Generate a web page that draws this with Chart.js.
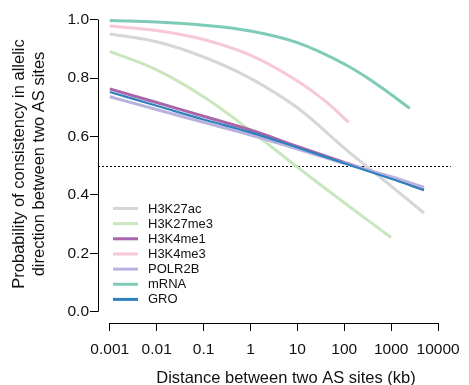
<!DOCTYPE html>
<html>
<head>
<meta charset="utf-8">
<script src="https://cdn.jsdelivr.net/npm/chart.js@4/dist/chart.umd.min.js"></script>
<style>
html,body{margin:0;padding:0;background:#fff;}
canvas{display:block;}
</style>
</head>
<body>
<canvas id="c" width="469" height="385"></canvas>
<script>
// ---- data ----
const seriesNames = ["H3K27ac","H3K27me3","H3K4me1","H3K4me3","POLR2B","mRNA","GRO"];
const xTicks = [0.001,0.01,0.1,1,10,100,1000,10000];
const xTickLabels = ["0.001","0.01","0.1","1","10","100","1000","10000"];
const yTicks = [0,0.2,0.4,0.6,0.8,1.0];
const yTickLabels = ["0.0","0.2","0.4","0.6","0.8","1.0"];

const h3k27acX = [0.001,0.01,0.1,1,10,100,1000,5000];
const h3k27acY = [0.951,0.924,0.872,0.799,0.698,0.560,0.430,0.338];
const h3k27me3X = [0.001,0.01,0.1,1,10,100,1000];
const h3k27me3Y = [0.891,0.828,0.736,0.620,0.495,0.373,0.254];
const h3k4me1X = [0.001,0.01,0.1,1,10,100,1000,5000];
const h3k4me1Y = [0.763,0.716,0.669,0.622,0.566,0.511,0.458,0.418];
const h3k4me3X = [0.001,0.01,0.1,1,10,40,125];
const h3k4me3Y = [0.978,0.963,0.932,0.878,0.790,0.720,0.648];
const polr2bX = [0.001,0.01,0.1,1,10,100,1000,5000];
const polr2bY = [0.736,0.692,0.648,0.605,0.557,0.508,0.462,0.426];
const mrnaX = [0.001,0.01,0.1,1,10,100,500,2500];
const mrnaY = [0.997,0.992,0.981,0.961,0.921,0.848,0.778,0.696];
const groX = [0.001,0.01,0.1,1,10,100,1000,5000];
const groY = [0.752,0.705,0.658,0.614,0.562,0.508,0.455,0.416];
const refLine = 0.5;

const colors = ["#d6d6d6","#c9e6bd","#a865a8","#f7c7da","#b9b2dc","#7ecbb8","#2f80bf"];

function pts(xs, ys){ return xs.map((x,i)=>({x:x,y:ys[i]})); }
const allX = [h3k27acX,h3k27me3X,h3k4me1X,h3k4me3X,polr2bX,mrnaX,groX];
const allY = [h3k27acY,h3k27me3Y,h3k4me1Y,h3k4me3Y,polr2bY,mrnaY,groY];
const widths = [3,3,3,3,3,3,2.2];
const orders = [7,6,3,5,2,4,1];

const datasets = seriesNames.map((n,i)=>({
  label:n,
  data:pts(allX[i],allY[i]),
  borderColor:colors[i],
  backgroundColor:colors[i],
  borderWidth:widths[i],
  pointRadius:0,
  fill:false,
  tension:0.4,
  borderCapStyle:'butt',
  order:orders[i]
}));

const FONT = "'Liberation Sans', Arial, Helvetica, sans-serif";

const decor = {
  id:'decor',
  beforeDatasetsDraw(chart){
    const ctx = chart.ctx, ys = chart.scales.y;
    ctx.save();
    ctx.strokeStyle = '#000';
    ctx.lineWidth = 1;
    ctx.setLineDash([2,2]);
    const yp = Math.round(ys.getPixelForValue(refLine))+0.5;
    ctx.beginPath();
    ctx.moveTo(chart.chartArea.left, yp);
    ctx.lineTo(chart.chartArea.right-2, yp);
    ctx.stroke();
    ctx.restore();
  },
  afterDraw(chart){
    const ctx = chart.ctx, xs = chart.scales.x, ys = chart.scales.y, ca = chart.chartArea;
    ctx.save();
    ctx.strokeStyle = '#000';
    ctx.lineWidth = 1;
    const xl = Math.round(ca.left)+0.5;
    ctx.beginPath();
    ctx.moveTo(xl, ys.getPixelForValue(yTicks[0]));
    ctx.lineTo(xl, ys.getPixelForValue(yTicks[yTicks.length-1]));
    ctx.stroke();
    const yb = Math.round(ca.bottom)+0.5;
    ctx.beginPath();
    ctx.moveTo(xs.getPixelForValue(xTicks[0]), yb);
    ctx.lineTo(xs.getPixelForValue(xTicks[xTicks.length-1]), yb);
    ctx.stroke();

    // legend
    ctx.font = "13px " + FONT;
    ctx.textBaseline = 'middle';
    ctx.textAlign = 'left';
    ctx.fillStyle = '#111';
    seriesNames.forEach((n,i)=>{
      const y = 208.5 + i*15.15;
      ctx.strokeStyle = colors[i];
      ctx.lineWidth = 3;
      ctx.beginPath();
      ctx.moveTo(113, y);
      ctx.lineTo(138, y);
      ctx.stroke();
      ctx.fillText(n, 148, y+0.5);
    });

    // axis titles
    ctx.fillStyle = '#111';
    ctx.font = "16.5px " + FONT;
    ctx.textAlign = 'center';
    ctx.textBaseline = 'middle';
    ctx.fillText("Distance between two AS sites (kb)", 286, 378);
    ctx.save();
    ctx.translate(19, 164);
    ctx.rotate(-Math.PI/2);
    ctx.fillText("Probability of consistency in allelic", 0, 0);
    ctx.restore();
    ctx.save();
    ctx.translate(39, 164);
    ctx.rotate(-Math.PI/2);
    ctx.fillText("direction between two AS sites", 0, 0);
    ctx.restore();
    ctx.restore();
  }
};

const yMin = -(323-311.7)/292, yMax = 1 + (19.3-10)/292;
const xMin = Math.pow(10, -3 - 12/47.86), xMax = Math.pow(10, 4 + 15/47.86);

new Chart(document.getElementById('c'), {
  type:'line',
  data:{datasets:datasets},
  options:{
    responsive:false,
    animation:false,
    devicePixelRatio:1,
    layout:{padding:{left:0,right:9,top:10,bottom:0}},
    plugins:{legend:{display:false},tooltip:{enabled:false}},
    scales:{
      x:{
        type:'logarithmic',
        min:xMin, max:xMax,
        afterBuildTicks(s){ s.ticks = xTicks.map(v=>({value:v})); },
        afterFit(s){ s.height = 62; },
        border:{display:false},
        grid:{display:true,drawOnChartArea:false,drawTicks:true,tickLength:8,color:'#000',lineWidth:1},
        ticks:{
          autoSkip:false, maxRotation:0, minRotation:0, padding:9,
          color:'#111', font:{size:15.5,family:FONT},
          callback(v){ const i = xTicks.indexOf(v); return i>=0 ? xTickLabels[i] : ''; }
        }
      },
      y:{
        type:'linear',
        min:yMin, max:yMax,
        afterBuildTicks(s){ s.ticks = yTicks.map(v=>({value:v})); },
        afterFit(s){ s.width = 98; },
        border:{display:false},
        grid:{display:true,drawOnChartArea:false,drawTicks:true,tickLength:8,color:'#000',lineWidth:1},
        ticks:{
          padding:1, color:'#111', font:{size:15.5,family:FONT},
          callback(v){ const i = yTicks.findIndex(t=>Math.abs(t-v)<1e-9); return i>=0 ? yTickLabels[i] : ''; }
        }
      }
    }
  },
  plugins:[decor]
});
</script>
</body>
</html>
